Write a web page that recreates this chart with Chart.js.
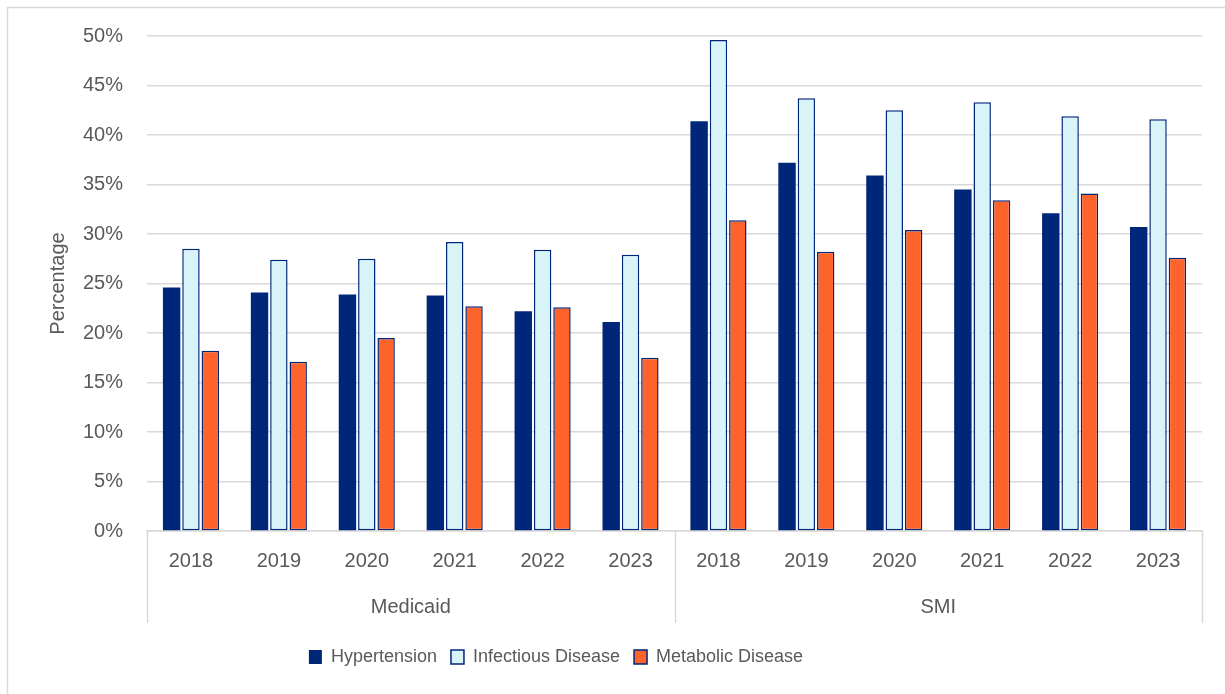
<!DOCTYPE html>
<html>
<head>
<meta charset="utf-8">
<script src="https://cdn.jsdelivr.net/npm/chart.js@4/dist/chart.umd.min.js"></script>
<style>
  html, body { margin: 0; padding: 0; background: #ffffff; }
  #wrap { width: 1225px; height: 694px; }
</style>
</head>
<body>
<div id="wrap"><canvas id="c" width="1225" height="694"></canvas></div>
<script>
// Years shown under each bar cluster, repeated for each population group
const years = ['2018', '2019', '2020', '2021', '2022', '2023',
               '2018', '2019', '2020', '2021', '2022', '2023'];
// Outer category level: group name and how many years it spans
const groups = ['Medicaid', 'SMI'];
const groupSizes = [6, 6];

// Share of members with each condition (%)
const hypertension = [24.6, 24.1, 23.9, 23.8, 22.2, 21.1, 41.4, 37.2, 35.9, 34.5, 32.1, 30.7];
const infectious   = [28.5, 27.4, 27.5, 29.2, 28.4, 27.9, 49.6, 43.7, 42.5, 43.3, 41.9, 41.6];
const metabolic    = [18.2, 17.1, 19.5, 22.7, 22.6, 17.5, 31.4, 28.2, 30.4, 33.4, 34.1, 27.6];

const seriesNames = ['Hypertension', 'Infectious Disease', 'Metabolic Disease'];
const yTicks = { min: 0, max: 50, step: 5 };

const NAVY = '#00267A';
const GRID = '#d9d9d9';
const TEXT = '#595959';
const FONT = "'Liberation Sans', Arial, sans-serif";

// Frame around the chart
const framePlugin = {
  id: 'frame',
  beforeDraw(chart) {
    const ctx = chart.ctx;
    ctx.save();
    ctx.strokeStyle = GRID;
    ctx.lineWidth = 1.5;
    ctx.strokeRect(7.5, 7.5, 1400, 1400);
    ctx.restore();
  }
};

// Legend sits centred under the whole chart frame rather than the plot area
const legendShiftPlugin = {
  id: 'legendShift',
  afterLayout(chart) {
    const lg = chart.legend;
    if (lg) { lg.left -= 45; lg.right -= 45; }
  }
};

// Second category level: group names and separator lines
const groupAxisPlugin = {
  id: 'groupAxis',
  afterDraw(chart) {
    const { ctx, chartArea } = chart;
    const x = chart.scales.x;
    const n = years.length;
    const w = (chartArea.right - chartArea.left) / n;
    const top = chartArea.bottom;
    const bottom = top + 92;
    ctx.save();
    ctx.strokeStyle = GRID;
    ctx.lineWidth = 1.5;
    let idx = 0;
    const bounds = [0];
    groupSizes.forEach(s => { idx += s; bounds.push(idx); });
    bounds.forEach(b => {
      const px = Math.round(x.left + b * w) + 0.5;
      ctx.beginPath();
      ctx.moveTo(px, top);
      ctx.lineTo(px, bottom);
      ctx.stroke();
    });
    ctx.fillStyle = TEXT;
    ctx.font = '20px ' + FONT;
    ctx.textAlign = 'center';
    ctx.textBaseline = 'middle';
    groups.forEach((g, i) => {
      const cx = x.left + (bounds[i] + bounds[i + 1]) / 2 * w;
      ctx.fillText(g, cx, top + 76);
    });
    ctx.restore();
  }
};

const barCommon = {
  categoryPercentage: 0.66,
  barPercentage: 0.9,
  borderSkipped: false
};

new Chart(document.getElementById('c'), {
  type: 'bar',
  data: {
    labels: years,
    datasets: [
      Object.assign({ label: seriesNames[0], data: hypertension, backgroundColor: NAVY, borderColor: NAVY, borderWidth: 0 }, barCommon),
      Object.assign({ label: seriesNames[1], data: infectious, backgroundColor: '#D9F4F9', borderColor: NAVY, borderWidth: 1.5 }, barCommon),
      Object.assign({ label: seriesNames[2], data: metabolic, backgroundColor: '#FF632C', borderColor: NAVY, borderWidth: 1.5 }, barCommon)
    ]
  },
  options: {
    responsive: false,
    animation: false,
    devicePixelRatio: 1,
    layout: { padding: { left: 0, right: 23, top: 36, bottom: 18 } },
    plugins: {
      legend: {
        position: 'bottom',
        labels: {
          boxWidth: 13,
          boxHeight: 14,
          padding: 14,
          color: TEXT,
          font: { family: FONT, size: 18 },
          generateLabels(chart) {
            return chart.data.datasets.map((ds, i) => ({
              text: ds.label,
              fillStyle: ds.backgroundColor,
              strokeStyle: NAVY,
              lineWidth: i === 0 ? 0 : 1.5,
              fontColor: TEXT,
              datasetIndex: i,
              hidden: false
            }));
          }
        }
      },
      tooltip: { enabled: false }
    },
    scales: {
      x: {
        grid: { display: false },
        border: { color: GRID, width: 1.5 },
        ticks: { color: TEXT, font: { family: FONT, size: 20 }, padding: 10, maxRotation: 0 },
        afterFit(scale) { scale.height = 103; }
      },
      y: {
        min: yTicks.min,
        max: yTicks.max,
        grid: { color: GRID, lineWidth: 1.5, drawTicks: false },
        border: { display: false },
        ticks: {
          stepSize: yTicks.step,
          color: TEXT,
          font: { family: FONT, size: 20 },
          padding: 24,
          callback: v => v + '%'
        },
        title: {
          display: true,
          text: 'Percentage',
          color: TEXT,
          font: { family: FONT, size: 20 },
          padding: { top: 46, bottom: 0 }
        },
        afterFit(scale) { scale.width = 147; }
      }
    }
  },
  plugins: [framePlugin, legendShiftPlugin, groupAxisPlugin]
});
</script>
</body>
</html>
